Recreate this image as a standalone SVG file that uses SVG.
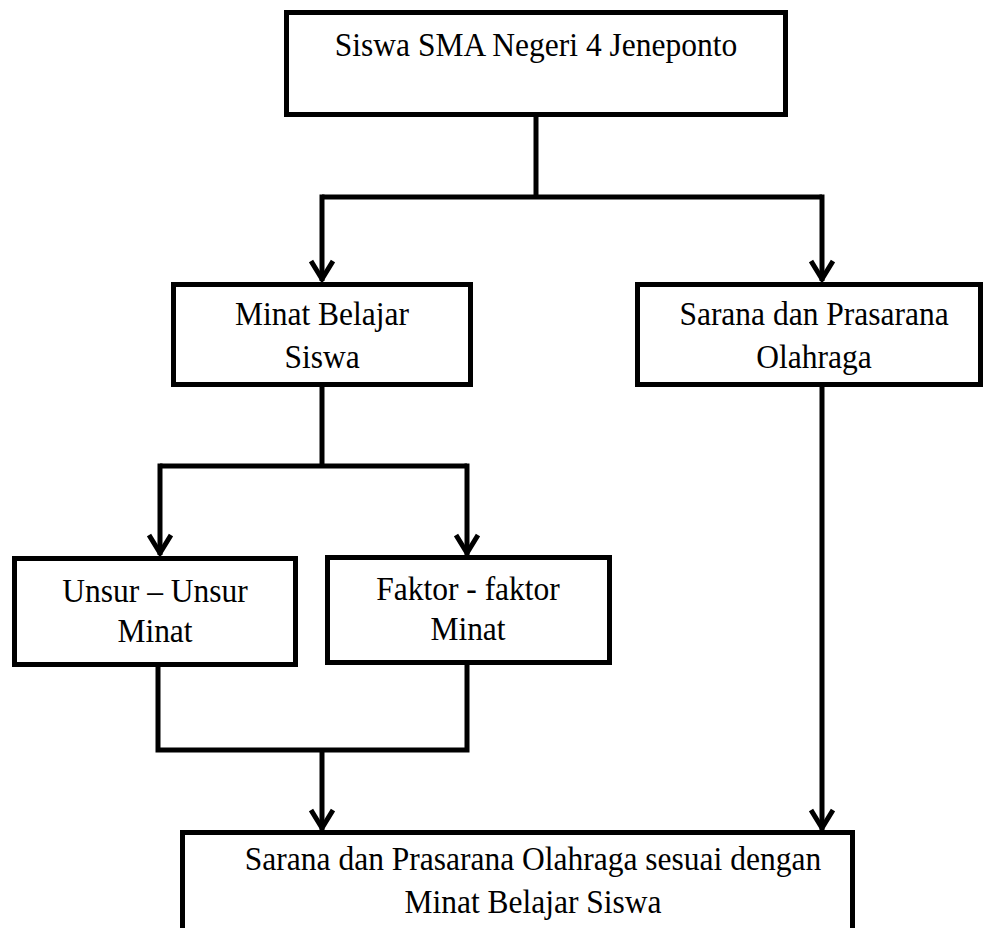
<svg xmlns="http://www.w3.org/2000/svg" width="985" height="928" viewBox="0 0 985 928">
<style>
.box{fill:#fff;stroke:#000;stroke-width:5}
.ln{fill:none;stroke:#000;stroke-width:5}
text{font-family:'Liberation Serif',serif;font-size:31.5px;fill:#000;text-anchor:middle}
</style>
<defs>
<marker id="ah" markerUnits="userSpaceOnUse" viewBox="-24 -13 27 26" refX="0" refY="0" markerWidth="27" markerHeight="26" orient="auto">
<polyline points="-20,-11 -2,0 -20,11" fill="none" stroke="#000" stroke-width="5"/>
</marker>
</defs>
<g id="connectors">
<polyline class="ln" points="536,117 536,197"/>
<polyline class="ln" points="322,197 822,197"/>
<line class="ln" x1="322" y1="194.5" x2="322" y2="281" marker-end="url(#ah)"/>
<line class="ln" x1="822" y1="194.5" x2="822" y2="281" marker-end="url(#ah)"/>
<polyline class="ln" points="322,386 322,466"/>
<polyline class="ln" points="160,466 467,466"/>
<line class="ln" x1="160" y1="463.5" x2="160" y2="555" marker-end="url(#ah)"/>
<line class="ln" x1="467" y1="463.5" x2="467" y2="555" marker-end="url(#ah)"/>
<polyline class="ln" points="158,666 158,750 467,750 467,664"/>
<line class="ln" x1="322" y1="750" x2="322" y2="830" marker-end="url(#ah)"/>
<line class="ln" x1="822" y1="386" x2="822" y2="830" marker-end="url(#ah)"/>
</g>
<g id="n-top">
<rect class="box" x="286.5" y="12.5" width="499" height="102"/>
<text transform="translate(536,56) scale(1,1.1)">Siswa SMA Negeri 4 Jeneponto</text>
</g>
<g id="n-minat">
<rect class="box" x="173.5" y="284.5" width="297" height="100"/>
<text transform="translate(322,325) scale(1,1.08)">Minat Belajar</text>
<text transform="translate(322,368) scale(1,1.08)">Siswa</text>
</g>
<g id="n-sarana">
<rect class="box" x="637.5" y="284.5" width="343" height="100"/>
<text transform="translate(814,325) scale(1,1.08)">Sarana dan Prasarana</text>
<text transform="translate(814,368) scale(1,1.08)">Olahraga</text>
</g>
<g id="n-unsur">
<rect class="box" x="14.5" y="558.5" width="281" height="106"/>
<text transform="translate(155,602) scale(1,1.08)">Unsur – Unsur</text>
<text transform="translate(155,642) scale(1,1.08)">Minat</text>
</g>
<g id="n-faktor">
<rect class="box" x="327.5" y="557.5" width="282" height="105"/>
<text transform="translate(468,600) scale(1,1.08)">Faktor - faktor</text>
<text transform="translate(468,640) scale(1,1.08)">Minat</text>
</g>
<g id="n-bottom">
<rect class="box" x="182.5" y="832.5" width="670" height="120"/>
<text transform="translate(533,870) scale(1,1.1)">Sarana dan Prasarana Olahraga sesuai dengan</text>
<text transform="translate(533,913) scale(1,1.1)">Minat Belajar Siswa</text>
</g>
</svg>
